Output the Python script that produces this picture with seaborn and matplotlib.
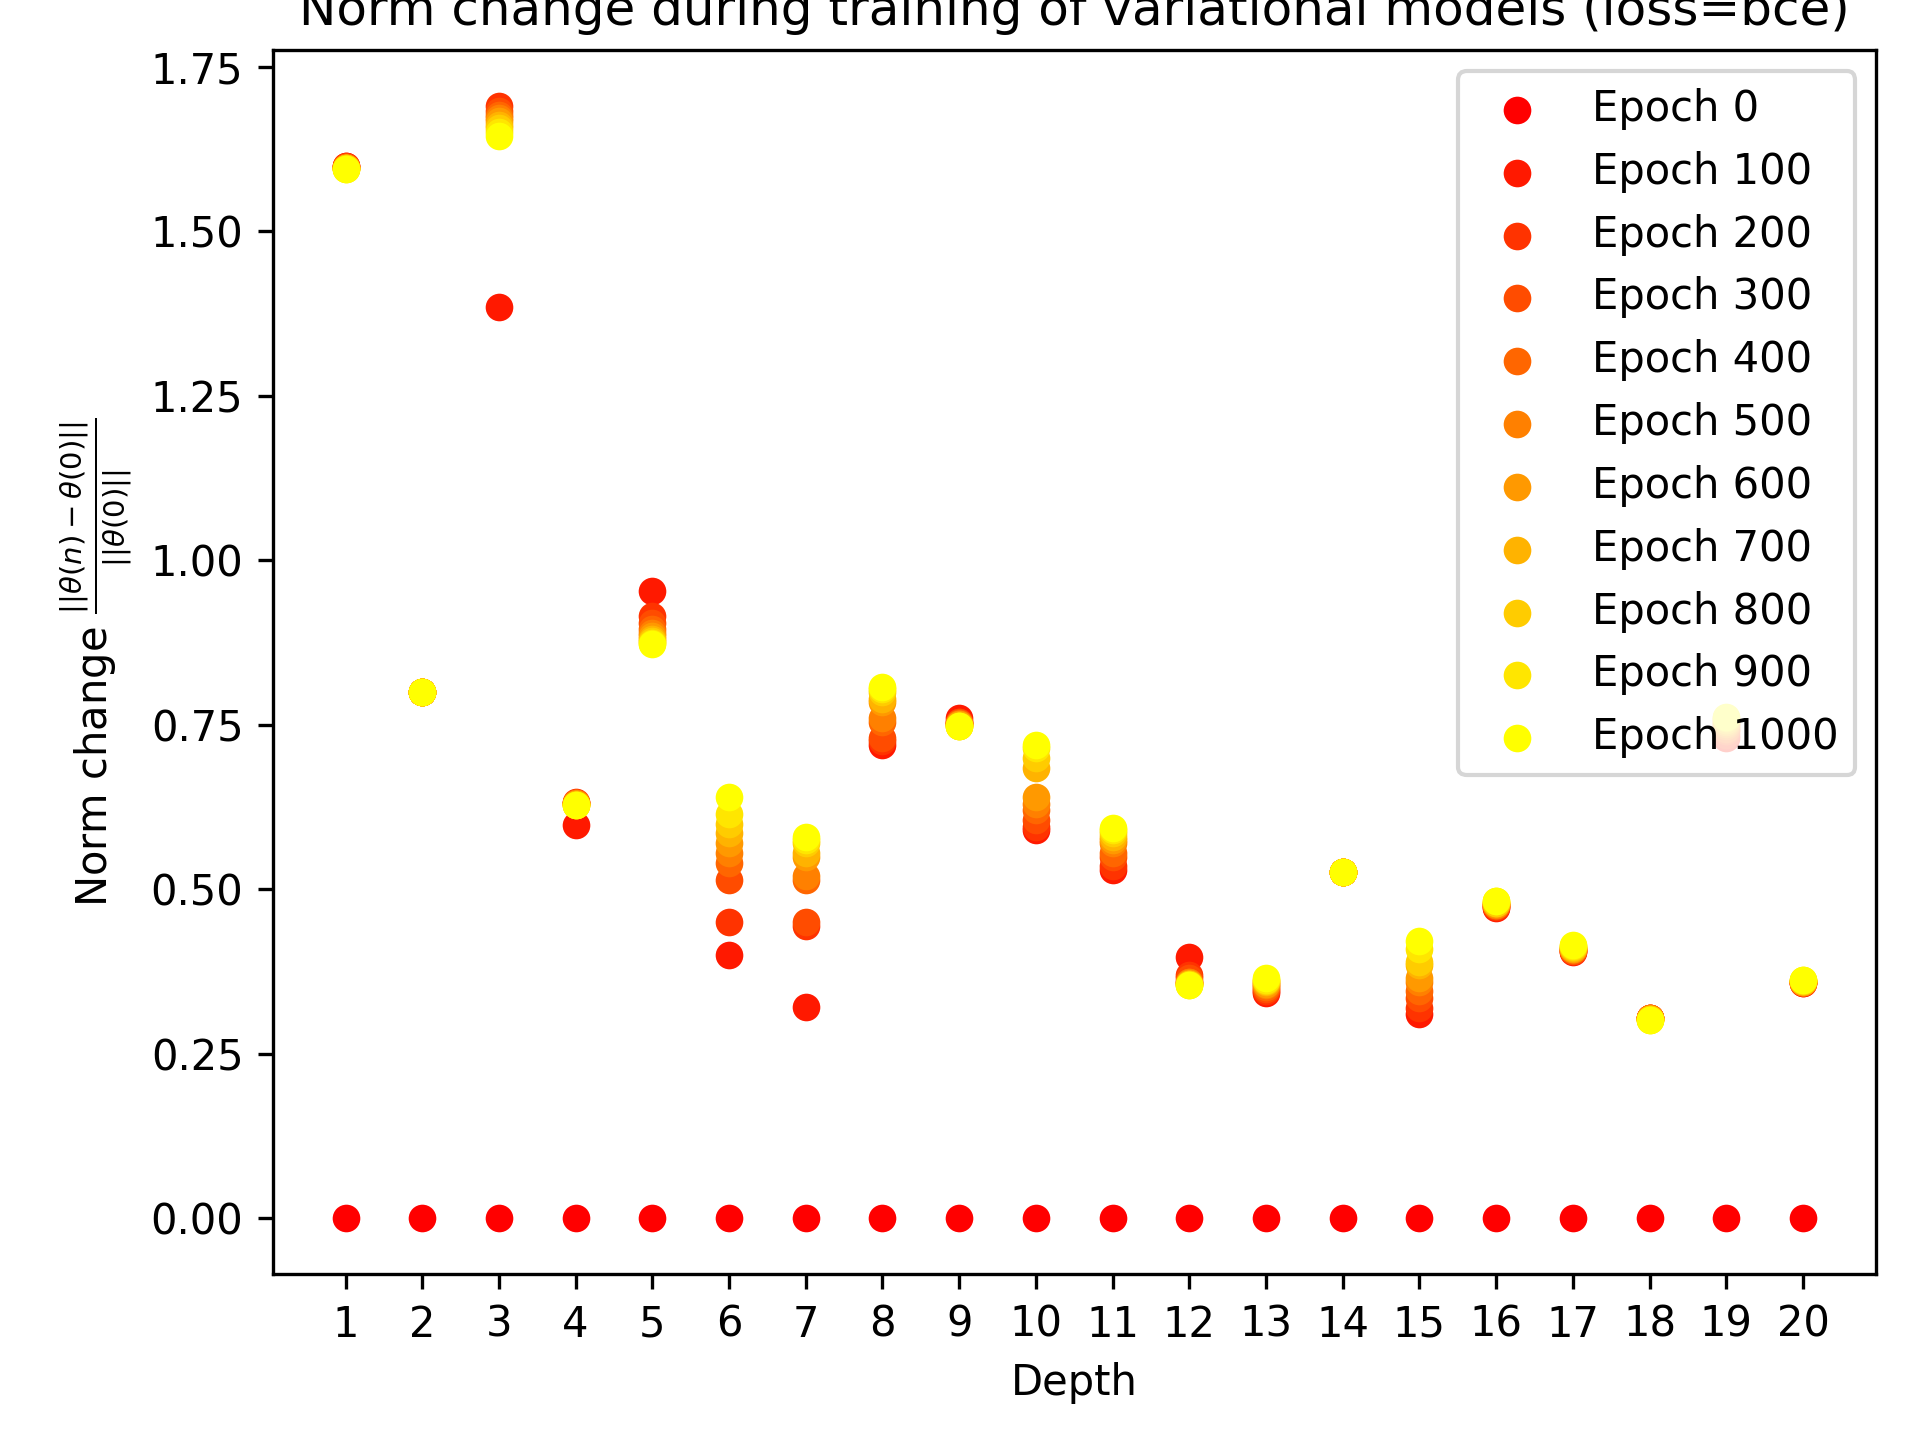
import numpy as np
import pandas as pd
import seaborn as sns
import matplotlib
matplotlib.use("Agg")
from matplotlib import pyplot as plt

depths = list(range(1, 21))
epochs = [0, 100, 200, 300, 400, 500, 600, 700, 800, 900, 1000]

# norm change per depth, epochs 100..1000 (epoch 0 is zero everywhere)
d1 = [1.600, 1.599, 1.598, 1.598, 1.597, 1.597, 1.596, 1.596, 1.595, 1.595]
d2 = [0.800, 0.800, 0.800, 0.800, 0.800, 0.800, 0.800, 0.800, 0.800, 0.800]
d3 = [1.385, 1.690, 1.683, 1.677, 1.672, 1.667, 1.662, 1.657, 1.651, 1.645]
d4 = [0.598, 0.633, 0.632, 0.631, 0.631, 0.630, 0.630, 0.629, 0.629, 0.628]
d5 = [0.953, 0.915, 0.905, 0.895, 0.890, 0.885, 0.880, 0.878, 0.875, 0.873]
d6 = [0.400, 0.450, 0.515, 0.540, 0.555, 0.570, 0.585, 0.600, 0.615, 0.640]
d7 = [0.322, 0.445, 0.450, 0.515, 0.520, 0.550, 0.555, 0.570, 0.575, 0.580]
d8 = [0.720, 0.725, 0.730, 0.755, 0.760, 0.785, 0.790, 0.800, 0.805, 0.808]
d9 = [0.760, 0.755, 0.754, 0.753, 0.752, 0.751, 0.750, 0.749, 0.748, 0.748]
d10 = [0.590, 0.595, 0.605, 0.620, 0.630, 0.640, 0.685, 0.700, 0.715, 0.720]
d11 = [0.530, 0.535, 0.550, 0.555, 0.570, 0.575, 0.580, 0.585, 0.590, 0.593]
d12 = [0.398, 0.370, 0.365, 0.360, 0.359, 0.358, 0.357, 0.356, 0.355, 0.355]
d13 = [0.343, 0.346, 0.349, 0.352, 0.355, 0.357, 0.359, 0.361, 0.363, 0.365]
d14 = [0.527, 0.527, 0.527, 0.527, 0.527, 0.527, 0.527, 0.527, 0.527, 0.527]
d15 = [0.310, 0.320, 0.335, 0.345, 0.360, 0.365, 0.385, 0.390, 0.410, 0.422]
d16 = [0.472, 0.474, 0.475, 0.476, 0.477, 0.478, 0.479, 0.480, 0.482, 0.483]
d17 = [0.405, 0.406, 0.407, 0.408, 0.409, 0.410, 0.411, 0.412, 0.414, 0.415]
d18 = [0.305, 0.305, 0.304, 0.304, 0.304, 0.303, 0.303, 0.303, 0.302, 0.302]
d19 = [0.730, 0.735, 0.740, 0.744, 0.748, 0.751, 0.754, 0.757, 0.760, 0.762]
d20 = [0.358, 0.358, 0.359, 0.359, 0.360, 0.360, 0.361, 0.361, 0.362, 0.362]
per_depth = [d1, d2, d3, d4, d5, d6, d7, d8, d9, d10,
             d11, d12, d13, d14, d15, d16, d17, d18, d19, d20]

fig, ax = plt.subplots(figsize=(6.4, 4.8), dpi=300)
fig.subplots_adjust(left=0.142, right=0.977, top=0.965, bottom=0.115)
cmap = plt.get_cmap('autumn')
for i, ep in enumerate(epochs):
    if ep == 0:
        vals = [0.0] * len(depths)
    else:
        vals = [d[i - 1] for d in per_depth]
    df = pd.DataFrame({'depth': depths, 'norm': vals})
    sns.scatterplot(data=df, x='depth', y='norm', ax=ax, color=cmap(i / (len(epochs) - 1)),
                    s=44, linewidth=0, label='Epoch %d' % ep)

ax.set_xticks(depths)
ax.set_yticks([0, 0.25, 0.5, 0.75, 1.0, 1.25, 1.5, 1.75])
ax.set_yticklabels(['%.2f' % v for v in ax.get_yticks()])
ax.set_ylim(-0.085, 1.775)
ax.set_xlim(0.05, 20.95)
ax.set_xlabel('Depth')
ax.set_ylabel(r'Norm change $\frac{||\theta(n) - \theta(0)||}{||\theta(0)||}$')
ax.set_title('Norm change during training of variational models (loss=bce)')
ax.legend(loc='upper right')
plt.savefig('out.png', dpi=300)
